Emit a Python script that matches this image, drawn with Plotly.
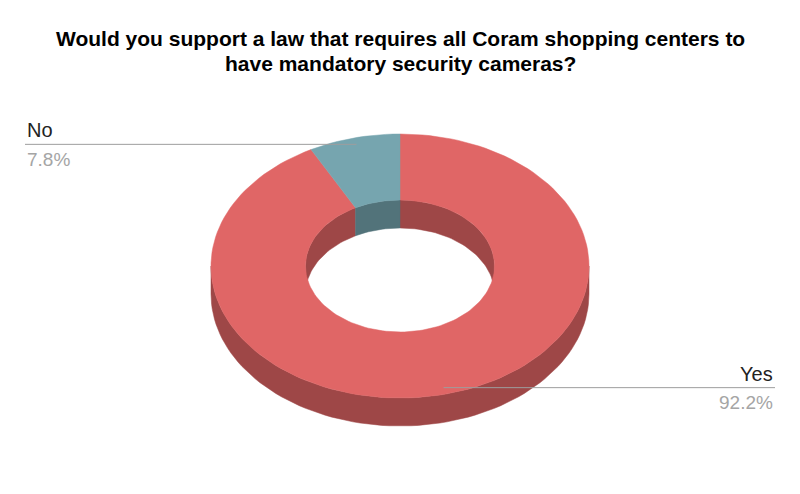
import numpy as np
import plotly.graph_objects as go

# data
labels = ["Yes", "No"]
values = [92.2, 7.8]
colors = ["#e06666", "#76a5af"]
side_colors = ["#9e4747", "#52737a"]
title_lines = ["Would you support a law that requires all Coram shopping centers to",
               "have mandatory security cameras?"]

# 3D donut geometry (pixels)
W, H = 800, 494
cx, cy = 400, 266
a_out, b_out = 189, 132
hole = 0.5
depth = 28
FONT = "Arial, Liberation Sans, sans-serif"


def pt(theta, r, dy=0.0):
    # theta in degrees, clockwise from 12 o'clock
    t = np.radians(theta)
    return cx + a_out * r * np.sin(t), cy - b_out * r * np.cos(t) + dy


def arc(t0, t1, r, dy=0.0, n=160):
    th = np.linspace(t0, t1, max(2, int(abs(t1 - t0) / 360 * n) + 2))
    return pt(th, r, dy)


def clip(t0, t1, v0, v1):
    lo, hi = max(t0, v0), min(t1, v1)
    return (lo, hi) if hi > lo else None


total = sum(values)
bounds = []
start = 0.0
for v in values:
    end = start + v / total * 360
    bounds.append((start, end))
    start = end

fig = go.Figure()


def poly(xs, ys, color):
    fig.add_trace(go.Scatter(x=xs, y=ys, mode="lines", fill="toself", fillcolor=color,
                             line=dict(color=color, width=0.5), hoverinfo="skip", showlegend=False))


# inner wall (back half, seen through the hole)
for (t0, t1), c in zip(bounds, side_colors):
    for v0, v1 in [(-90, 90), (270, 450)]:
        seg = clip(t0, t1, v0, v1)
        if seg:
            x1, y1 = arc(seg[0], seg[1], hole)
            x2, y2 = arc(seg[1], seg[0], hole, depth)
            poly(np.r_[x1, x2, x1[0]], np.r_[y1, y2, y1[0]], c)

# outer wall (front half)
for (t0, t1), c in zip(bounds, side_colors):
    seg = clip(t0, t1, 90, 270)
    if seg:
        x1, y1 = arc(seg[0], seg[1], 1.0)
        x2, y2 = arc(seg[1], seg[0], 1.0, depth)
        poly(np.r_[x1, x2, x1[0]], np.r_[y1, y2, y1[0]], c)

# top face
for (t0, t1), c in zip(bounds, colors):
    x1, y1 = arc(t0, t1, 1.0)
    x2, y2 = arc(t1, t0, hole)
    poly(np.r_[x1, x2, x1[0]], np.r_[y1, y2, y1[0]], c)

# leader lines and labels
for (t0, t1), lab, v in zip(bounds, labels, values):
    mid = (t0 + t1) / 2
    px, py = pt(mid, 0.95)
    right = px >= cx
    ex = 775 if right else 25
    fig.add_trace(go.Scatter(x=[px, ex], y=[py, py], mode="lines",
                             line=dict(color="#9e9e9e", width=1), hoverinfo="skip", showlegend=False))
    anchor = "right" if right else "left"
    fig.add_annotation(x=ex, y=py - 14, text=lab, showarrow=False, xanchor=anchor, yanchor="middle",
                       font=dict(family=FONT, size=20, color="#222222"))
    fig.add_annotation(x=ex, y=py + 15, text=f"{v:.1f}%", showarrow=False, xanchor=anchor, yanchor="middle",
                       font=dict(family=FONT, size=19, color="#a5a5a5"))

for i, line in enumerate(title_lines):
    fig.add_annotation(x=400, y=38 + 25 * i, text=f"<b>{line}</b>", showarrow=False,
                       xanchor="center", yanchor="middle",
                       font=dict(family=FONT, size=21, color="#000000"))

fig.update_layout(
    width=W, height=H, margin=dict(l=0, r=0, t=0, b=0),
    paper_bgcolor="white", plot_bgcolor="white",
    xaxis=dict(range=[0, W], visible=False, fixedrange=True),
    yaxis=dict(range=[H, 0], visible=False, fixedrange=True),
    showlegend=False,
)
fig.write_html("out.html", config={"displayModeBar": False},
               post_script="document.body.style.margin = '0';")
